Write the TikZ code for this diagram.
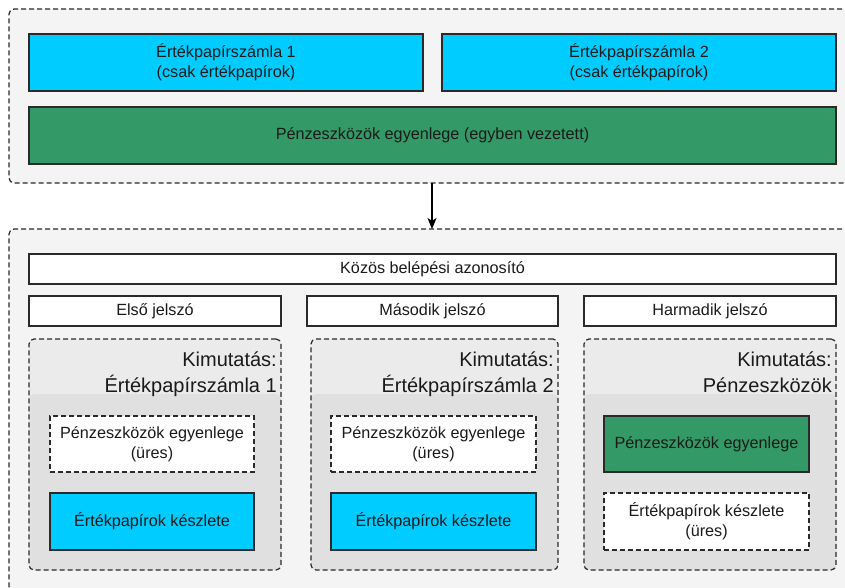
\documentclass[tikz,border=0pt]{standalone}
\usepackage{fontspec}
\setmainfont{Liberation Sans}
\usetikzlibrary{arrows.meta,positioning,calc}

\definecolor{acccol}{HTML}{00CCFF}
\definecolor{cashcol}{HTML}{339966}
\definecolor{groupbg}{HTML}{F4F4F4}
\definecolor{kimhead}{HTML}{EBEBEB}
\definecolor{kimbody}{HTML}{E0E0E0}
\definecolor{linecol}{HTML}{2A2A2A}
\definecolor{txtcol}{HTML}{1A1A1A}

\newcommand{\boxfont}{\fontsize{16.2}{20}\selectfont}
\newcommand{\titlefont}{\fontsize{20}{26}\selectfont}

\tikzset{
    dashline/.style={dash pattern=on 5pt off 3pt},
    groupbox/.style={draw=linecol,line width=1.2pt,dashline,fill=groupbg,rounded corners=5pt,inner sep=0,outer sep=0},
    box/.style={draw=linecol,line width=1.1pt,inner sep=0,outer sep=0,align=center,font=\boxfont,text=txtcol},
    accbox/.style={box,fill=acccol},
    cashbox/.style={box,fill=cashcol},
    plainbox/.style={box,fill=white},
    emptybox/.style={box,fill=white,dashline},
    kimbox/.style={draw=linecol,line width=1.2pt,dashline,fill=kimhead,rounded corners=5pt,inner sep=0,outer sep=0,
        path picture={\fill[kimbody] ([yshift=-55pt]path picture bounding box.north west) rectangle (path picture bounding box.south east);}},
    kimtitle/.style={anchor=north east,align=right,font=\titlefont,text=txtcol,inner sep=3pt}
}

\begin{document}
\begin{tikzpicture}[x=1pt,y=-1pt]
    \useasboundingbox (0,0) rectangle (845,588);
    \clip (0,0) rectangle (845,588);

    % upper group: the accounts
    \node [groupbox,minimum width=846,minimum height=174](top) at (432,96) {};
    \node [accbox,minimum width=394,minimum height=57](acc1) at (226,62.5) {Értékpapírszámla 1\\(csak értékpapírok)};
    \node [accbox,minimum width=394,minimum height=57](acc2) at (639,62.5) {Értékpapírszámla 2\\(csak értékpapírok)};
    \node [cashbox,minimum width=807,minimum height=57](cash) at (432.5,135.5) {Pénzeszközök egyenlege (egyben vezetett)};

    % lower group: login and reports
    \node [groupbox,minimum width=846,minimum height=371](bottom) at (432,414.5) {};
    \node [plainbox,minimum width=807,minimum height=30](login) at (432.5,269) {Közös belépési azonosító};
    \node [plainbox,minimum width=252,minimum height=30](pw1) at (155,311) {Első jelszó};
    \node [plainbox,minimum width=251,minimum height=30](pw2) at (432.5,311) {Második jelszó};
    \node [plainbox,minimum width=252,minimum height=30](pw3) at (710,311) {Harmadik jelszó};

    \node [kimbox,minimum width=252,minimum height=231](kim1) at (155,454.5) {};
    \node [kimbox,minimum width=247,minimum height=231](kim2) at (434.5,454.5) {};
    \node [kimbox,minimum width=252,minimum height=231](kim3) at (710,454.5) {};
    \node [kimtitle](t1) at ([xshift=-1pt,yshift=-10pt]kim1.north east) {Kimutatás:\\Értékpapírszámla 1};
    \node [kimtitle](t2) at ([xshift=-1pt,yshift=-10pt]kim2.north east) {Kimutatás:\\Értékpapírszámla 2};
    \node [kimtitle](t3) at ([xshift=-1pt,yshift=-10pt]kim3.north east) {Kimutatás:\\Pénzeszközök};

    \node [emptybox,minimum width=204,minimum height=56](e1) at (152,444) {Pénzeszközök egyenlege\\(üres)};
    \node [accbox,minimum width=204,minimum height=57](s1) at (152,521.5) {Értékpapírok készlete};
    \node [emptybox,minimum width=205,minimum height=56](e2) at (433.5,444) {Pénzeszközök egyenlege\\(üres)};
    \node [accbox,minimum width=205,minimum height=57](s2) at (433.5,521.5) {Értékpapírok készlete};
    \node [cashbox,minimum width=205,minimum height=56](c3) at (706.5,444) {Pénzeszközök egyenlege};
    \node [emptybox,minimum width=205,minimum height=57](e3) at (706.5,521.5) {Értékpapírok készlete\\(üres)};

    \draw[-{Stealth[length=11pt,width=9pt,inset=3pt]},line width=1.1pt,draw=black] (top.south) -- (bottom.north);
\end{tikzpicture}
\end{document}
